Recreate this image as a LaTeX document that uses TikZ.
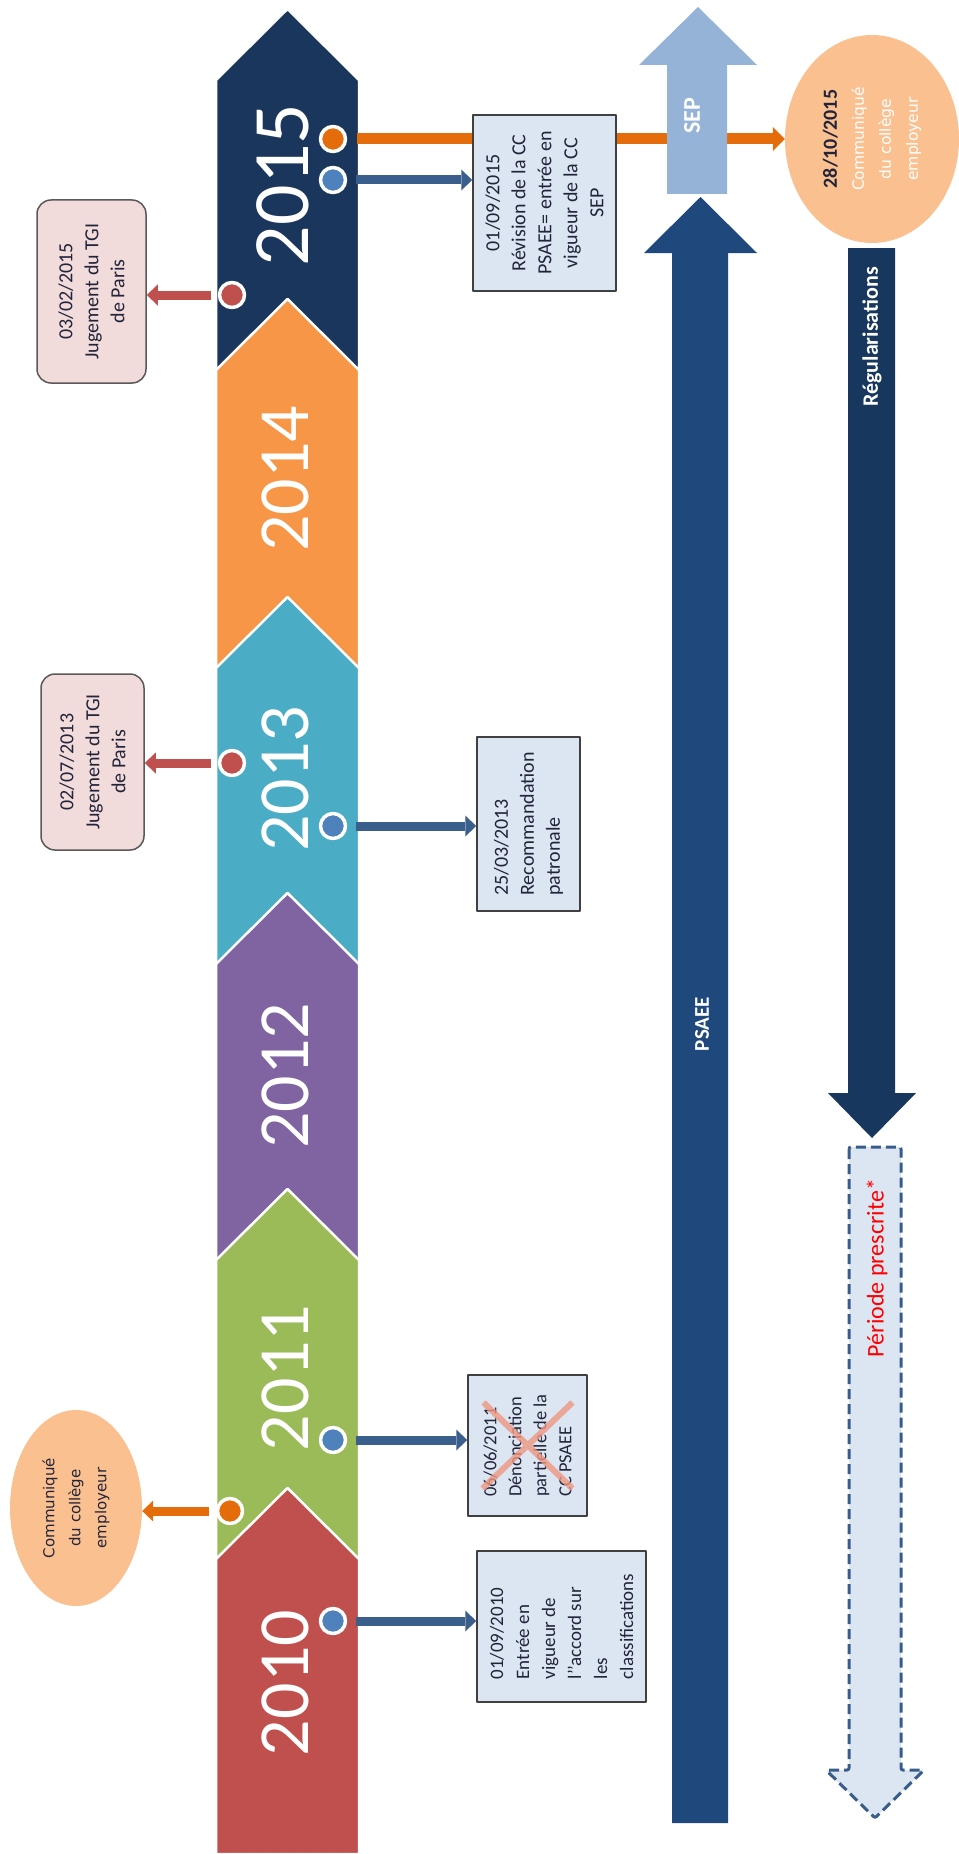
\documentclass[tikz,border=0pt]{standalone}
\usepackage{fontspec}
\setmainfont{Carlito}
\newfontfamily\verdana{DejaVu Sans}
\usetikzlibrary{arrows.meta,shapes.geometric}
\definecolor{yr15}{HTML}{1B365D}
\definecolor{yr14}{HTML}{F79646}
\definecolor{yr13}{HTML}{4BACC6}
\definecolor{yr12}{HTML}{8064A2}
\definecolor{yr11}{HTML}{9BBB59}
\definecolor{yr10}{HTML}{C0504D}
\definecolor{dotor}{HTML}{E46C0A}
\definecolor{dotbl}{HTML}{4F81BD}
\definecolor{dotrd}{HTML}{C0504D}
\definecolor{lnbl}{HTML}{3B5F8C}
\definecolor{lnrd}{HTML}{C0504D}
\definecolor{lnor}{HTML}{E46C0A}
\definecolor{boxfill}{HTML}{DCE6F2}
\definecolor{boxline}{HTML}{404040}
\definecolor{jfill}{HTML}{F2DCDB}
\definecolor{jline}{HTML}{595959}
\definecolor{commfill}{HTML}{FAC090}
\definecolor{txtdark}{HTML}{22243A}
\definecolor{psaeefill}{HTML}{1F497D}
\definecolor{sepfill}{HTML}{95B3D7}
\definecolor{regfill}{HTML}{17375E}
\definecolor{dashln}{HTML}{385D8A}
\definecolor{crosscol}{HTML}{EE9680}
\begin{document}
\begin{tikzpicture}[x=1pt,y=-1pt,line join=round,>={Triangle[length=11pt,width=21pt,line width=0pt]}]
	\tikzset{
		yeartxt/.style={rotate=90,text=white,font=\fontsize{72}{72}\selectfont},
		evdot/.style={circle,draw=white,line width=3.5pt,minimum size=25pt,inner sep=0pt},
		link/.style={->,line width=9pt},
		evbox/.style={rotate=90,draw=boxline,line width=1.5pt,fill=boxfill,text=txtdark,inner sep=0pt,font=\fontsize{20}{26}\selectfont},
		jbox/.style={evbox,rounded corners=14pt,draw=jline,fill=jfill,align=center},
		commu/.style={ellipse,rotate=90,fill=commfill,inner sep=0pt,align=center},
		bartxt/.style={rotate=90,text=white,font=\bfseries\fontsize{22}{22}\selectfont}
	}
	\useasboundingbox (0,0) rectangle (958,1854);
	\foreach \tip/\col in {9/yr15,299/yr14,597/yr13,893/yr12,1189/yr11,1488/yr10}
	\filldraw[fill=\col,draw=white,line width=2.5pt] (216,\tip+71) -- (287.5,\tip) -- (359,\tip+71) -- (359,1854) -- (216,1854) -- cycle;
	\node[yeartxt,font=\fontsize{80}{80}\selectfont] (y2015) at (283,185) {2015};
	\foreach \yr/\ypos in {2014/479,2013/779,2012/1076,2011/1378,2010/1683}
	\node[yeartxt] (y\yr) at (285,\ypos) {\yr};
	\node[evdot,fill=dotor] (o15) at (333,139) {};
	\node[evdot,fill=dotbl] (b15) at (333,180) {};
	\node[evdot,fill=dotrd] (r15) at (232,295) {};
	\node[evdot,fill=dotrd] (r13) at (232,763) {};
	\node[evdot,fill=dotbl] (b13) at (333,826) {};
	\node[evdot,fill=dotbl] (b11) at (333,1440) {};
	\node[evdot,fill=dotor] (o11) at (230,1511) {};
	\node[evdot,fill=dotbl] (b10) at (333,1621) {};
	\node[commu,minimum width=208pt,minimum height=174pt,text=white,font=\verdana\fontsize{15.5}{27}\selectfont] (c2015) at (872,139)
	{{\rmfamily\bfseries\fontsize{20}{27}\selectfont\color{txtdark}28/10/2015}\\Communiqué\\du collège\\employeur};
	\draw[link,lnor,line width=11pt,-{Triangle[length=12pt,width=24pt,line width=0pt]},shorten <=10pt] (o15.east) -- (o15 -| c2015.north);
	\node[evbox,align=center,minimum width=176pt,minimum height=143pt] (b2015) at (544.5,203)
	{01/09/2015\\Révision de la CC\\PSAEE= entrée en\\vigueur de la CC\\SEP};
	\fill[sepfill] (667,194) -- (667,65) -- (639,65) -- (698,7) -- (757,65) -- (727,65) -- (727,194) -- cycle;
	\node[bartxt,font=\bfseries\fontsize{24}{24}\selectfont] (sep) at (692,116) {SEP};
	\fill[psaeefill] (672,1823) -- (672,253) -- (644,253) -- (700.5,197) -- (757,253) -- (728,253) -- (728,1823) -- cycle;
	\node[bartxt,font=\bfseries\fontsize{21}{21}\selectfont] (psaee) at (702,1024) {PSAEE};
	\fill[regfill] (848,248) -- (848,1093) -- (828,1093) -- (872,1138) -- (916,1093) -- (895,1093) -- (895,248) -- cycle;
	\node[bartxt] (regul) at (872,337) {Régularisations};
	\filldraw[fill=boxfill,draw=dashln,line width=3pt,dash pattern=on 10pt off 5pt,rounded corners=2pt]
	(849,1147) -- (849,1770) -- (826,1770) -- (875,1818) -- (924,1770) -- (901,1770) -- (901,1147) -- cycle;
	\node[rotate=90,text=red,font=\fontsize{24}{24}\selectfont] (presc) at (877,1268) {Période prescrite*};
	\node[evbox,align=left,minimum width=174pt,minimum height=103pt] (b2013) at (528.5,824)
	{25/03/2013\\Recommandation\\patronale};
	\node[evbox,align=left,minimum width=141pt,minimum height=119pt,font=\fontsize{18.5}{25}\selectfont] (b2011) at (527.5,1445.5)
	{06/06/2011\\Dénonciation\\partielle de la\\CC PSAEE};
	\draw[line width=6pt,crosscol,opacity=0.8] ([shift={(-45,43)}]b2011.center) -- ([shift={(45,-43)}]b2011.center)
	([shift={(-44,-43)}]b2011.center) -- ([shift={(45,43)}]b2011.center);
	\node[evbox,align=left,minimum width=151pt,minimum height=169pt,font=\fontsize{19}{26}\selectfont] (b2010) at (561.5,1626.5)
	{01/09/2010\\Entrée en\\vigueur de\\l’’accord sur\\les\\classifications};
	\node[jbox,minimum width=183pt,minimum height=109pt] (j2015) at (91.5,291.5) {03/02/2015\\Jugement du TGI\\de Paris};
	\node[jbox,minimum width=176pt,minimum height=103pt] (j2013) at (92.5,762) {02/07/2013\\Jugement du TGI\\de Paris};
	\node[commu,minimum width=196pt,minimum height=132pt,text=txtdark,font=\verdana\fontsize{15}{26}\selectfont] (c2011) at (76,1508)
	{Communiqué\\du collège\\employeur};
	\draw[link,lnbl,shorten <=9pt] (b15.east) -- (b15 -| b2015.north);
	\draw[link,lnrd,shorten <=7pt] (r15.west) -- (r15 -| j2015.south);
	\draw[link,lnrd,shorten <=7pt] (r13.west) -- (r13 -| j2013.south);
	\draw[link,lnbl,shorten <=9pt] (b13.east) -- (b13 -| b2013.north);
	\draw[link,lnbl,shorten <=9pt] (b11.east) -- (b11 -| b2011.north);
	\draw[link,lnor,shorten <=7pt] (o11.west) -- (o11 -| c2011.south);
	\draw[link,lnbl,shorten <=9pt] (b10.east) -- (b10 -| b2010.north);
\end{tikzpicture}
\end{document}
